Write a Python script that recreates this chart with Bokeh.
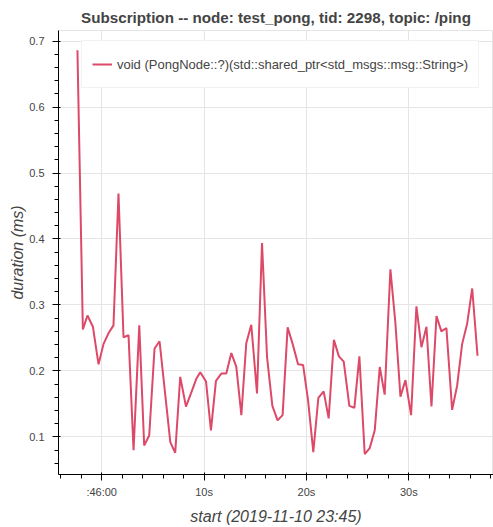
from bokeh.plotting import figure
from bokeh.models import Range1d, FixedTicker
from bokeh.embed import file_html
from bokeh.resources import INLINE

# start time, seconds after 2019-11-10 23:46:00
start_s = [-2.37, -1.84, -1.39, -0.86, -0.31, 0.18, 0.66, 1.15, 1.64, 2.13,
           2.62, 3.11, 3.67, 4.15, 4.64, 5.16, 5.65, 6.70, 7.18, 7.67,
           8.23, 8.72, 9.24, 9.63, 10.19, 10.67, 11.16, 11.68, 12.17, 12.66,
           13.15, 13.64, 14.12, 14.61, 15.17, 15.66, 16.15, 16.67, 17.18, 17.67,
           18.16, 18.65, 19.18, 19.67, 20.16, 20.67, 21.16, 21.68, 22.17, 22.68,
           23.17, 23.64, 24.19, 24.68, 25.17, 25.69, 26.18, 26.67, 27.16, 27.64,
           28.20, 28.69, 29.18, 29.67, 30.22, 30.74, 31.23, 31.72, 32.21, 32.70,
           33.18, 33.67, 34.23, 34.72, 35.21, 35.70, 36.19, 36.71]
duration_ms = [0.686, 0.263, 0.284, 0.267, 0.210, 0.241, 0.257, 0.269, 0.469, 0.251,
               0.254, 0.080, 0.269, 0.087, 0.102, 0.234, 0.245, 0.092, 0.076, 0.191,
               0.146, 0.166, 0.188, 0.198, 0.184, 0.110, 0.185, 0.196, 0.196, 0.227,
               0.206, 0.133, 0.242, 0.270, 0.166, 0.394, 0.221, 0.147, 0.125, 0.133,
               0.266, 0.241, 0.210, 0.209, 0.155, 0.077, 0.159, 0.169, 0.128, 0.247,
               0.222, 0.214, 0.147, 0.144, 0.222, 0.074, 0.083, 0.110, 0.206, 0.164,
               0.354, 0.272, 0.161, 0.186, 0.133, 0.298, 0.236, 0.267, 0.146, 0.283,
               0.260, 0.265, 0.141, 0.178, 0.241, 0.272, 0.325, 0.223]

x_ticks = [0, 10, 20, 30]
x_tick_labels = [":46:00", "10s", "20s", "30s"]
x_minor = [-4, -2, 2, 4, 6, 8, 12, 14, 16, 18, 22, 24, 26, 28, 32, 34, 36, 38]
y_ticks = [0.1, 0.2, 0.3, 0.4, 0.5, 0.6, 0.7]
y_minor = [round(0.04 + 0.02 * i, 2) for i in range(35)]

title = "Subscription -- node: test_pong, tid: 2298, topic: /ping"
series_label = "void (PongNode::?)(std::shared_ptr<std_msgs::msg::String>)"

p = figure(width=493, height=527, output_backend="svg", toolbar_location=None,
           title=title,
           x_range=Range1d(-4.22, 38.27), y_range=Range1d(0.043, 0.716),
           x_axis_label="start (2019-11-10 23:45)", y_axis_label="duration (ms)",
           min_border_right=0, min_border_bottom=0, min_border_top=30,
           min_border_left=58)
p.title.align = "center"
p.title.text_font_size = "15.2px"
p.title.standoff = 9
p.xaxis.axis_label_text_font_size = "16px"
p.yaxis.axis_label_text_font_size = "16px"
p.xaxis.major_label_standoff = 5
p.xaxis.axis_label_standoff = 7
p.yaxis.major_label_standoff = 8
p.yaxis.axis_label_standoff = 0

p.line(start_s, duration_ms, color="#DD4968", line_width=2, legend_label=series_label)

p.xaxis.ticker = FixedTicker(ticks=x_ticks, minor_ticks=x_minor)
p.xaxis.major_label_overrides = dict(zip(x_ticks, x_tick_labels))
p.yaxis.ticker = FixedTicker(ticks=y_ticks, minor_ticks=y_minor)

p.legend.location = (23, 386)
p.legend.label_height = 26

open("out.html", "w").write(file_html(p, INLINE))
